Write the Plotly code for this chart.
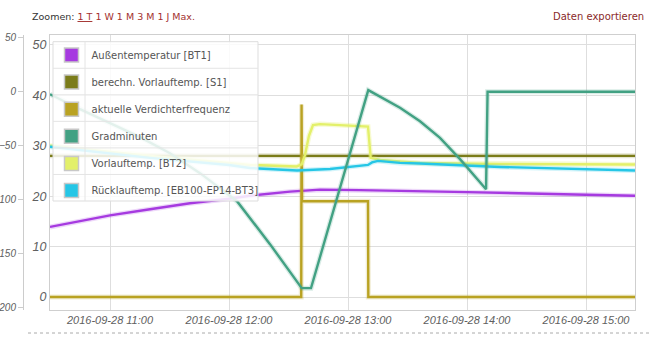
import plotly.graph_objects as go

D = "2016-09-28 "
W, H = 653, 341
MT, MB = 35, 31
PH = H - MT - MB

series_names = ["Außentemperatur [BT1]", "berechn. Vorlauftemp. [S1]", "aktuelle Verdichterfrequenz",
                "Gradminuten", "Vorlauftemp. [BT2]", "Rücklauftemp. [EB100-EP14-BT3]"]
series_colors = ["#a63ae0", "#7b7c1a", "#b9a222", "#42a183", "#e3f06a", "#25c6e6"]
halo_colors = ["rgba(166,58,224,0.2)", "rgba(123,124,26,0.2)", "rgba(185,162,34,0.2)",
               "rgba(66,161,131,0.2)", "rgba(227,240,106,0.3)", "rgba(37,198,230,0.2)"]

aussen_t = ["10:29:45", "11:00:00", "11:20:10", "11:40:20", "12:00:00", "12:10:35", "12:30:45",
            "12:45:53", "13:06:03", "13:26:13", "14:00:00", "15:00:00", "15:24:42"]
aussen_v = [13.9, 16.2, 17.4, 18.6, 19.5, 20.1, 20.9, 21.3, 21.2, 21.0, 20.8, 20.3, 20.1]

soll_t = ["10:29:45", "12:00:00", "14:00:00", "15:24:42"]
soll_v = [28.0, 28.0, 28.0, 28.0]

freq_t = ["10:29:45", "12:36:25", "12:36:35", "12:36:50", "13:10:05", "13:10:15", "15:24:42"]
freq_v = [0, 0, 38.2, 19.0, 19.0, 0, 0]

grad_t = ["10:29:45", "10:44:52", "11:00:00", "11:15:08", "11:30:15", "11:45:23", "12:04:02",
          "12:20:40", "12:36:39", "12:41:21", "13:10:13", "13:26:13", "13:36:18", "13:46:23",
          "13:56:28", "14:09:36", "14:10:22", "15:24:42"]
grad_v = [-2.8, -16.6, -29.5, -42.4, -57.2, -75.6, -101.5, -141.1, -181.7, -181.7, 1.0,
          -15.3, -27.7, -43.1, -62.7, -90.4, -0.5, -0.5]

vl_t = ["10:29:45", "11:20:10", "12:00:00", "12:10:35", "12:34:08", "12:36:39", "12:38:19",
        "12:40:20", "12:42:21", "12:45:53", "12:55:58", "13:10:05", "13:11:27", "13:16:08",
        "13:36:18", "14:16:38", "15:24:42"]
vl_v = [30.0, 28.0, 26.6, 26.2, 25.9, 26.3, 28.2, 32.0, 34.1, 34.3, 34.1, 33.8, 27.6, 27.2,
        26.6, 26.4, 26.3]

rl_t = ["10:29:45", "11:20:10", "12:00:00", "12:10:35", "12:34:18", "12:50:55", "13:10:05",
        "13:12:06", "13:15:08", "13:26:13", "13:36:18", "14:16:38", "15:24:42"]
rl_v = [29.8, 27.6, 26.2, 25.6, 25.1, 25.4, 26.2, 26.7, 27.0, 26.6, 26.5, 25.8, 25.1]

x_ticks = ["11:00", "12:00", "13:00", "14:00", "15:00"]
temp_ticks = [0, 10, 20, 30, 40, 50]
grad_ticks = [-200, -150, -100, -50, 0, 50]

data = [
    (aussen_t, aussen_v, "y"),
    (soll_t, soll_v, "y"),
    (freq_t, freq_v, "y"),
    (grad_t, grad_v, "y2"),
    (vl_t, vl_v, "y"),
    (rl_t, rl_v, "y"),
]

fig = go.Figure()
for i, (ts, vs, ax) in enumerate(data):
    xs = [D + t for t in ts]
    # soft halo below the line (chart-library style shadow)
    fig.add_trace(go.Scatter(
        x=xs, y=vs, yaxis=ax, mode="lines", line=dict(color=halo_colors[i], width=5),
        legendgroup=series_names[i], showlegend=False, hoverinfo="skip"))
    fig.add_trace(go.Scatter(
        x=xs, y=vs, yaxis=ax, mode="lines",
        line=dict(color=series_colors[i], width=2.4),
        name=series_names[i], legendgroup=series_names[i], showlegend=False,
        hoverinfo="x+y+name"))
for i, n in enumerate(series_names):
    fig.add_trace(go.Scatter(
        x=[None], y=[None], mode="markers", name=n, legendgroup=n, showlegend=True,
        marker=dict(symbol="square", size=14, color=series_colors[i],
                    line=dict(color="#c8c8c8", width=1.5))))


def px_x(p):
    return p / W


def px_y(p):
    return (H - MB - p) / PH


lbl_font = dict(family="Liberation Sans, Arial, sans-serif", color="#606060", style="italic")

fig.update_layout(
    width=W, height=H,
    margin=dict(l=0, r=0, t=MT, b=MB, pad=0, autoexpand=False),
    paper_bgcolor="white", plot_bgcolor="white",
    xaxis=dict(
        type="date", domain=[50 / W, 635 / W], automargin=False,
        range=[D + "10:29:45", D + "15:24:42"],
        tickvals=[D + t for t in x_ticks], ticktext=[D + t for t in x_ticks],
        showgrid=True, gridcolor="#dedede", gridwidth=1,
        showline=True, linecolor="#cfcfcf", mirror=True, zeroline=False,
        ticks="", tickfont=dict(size=11, **lbl_font),
    ),
    yaxis=dict(
        range=[-2.58, 51.98], tickvals=temp_ticks, automargin=False,
        showgrid=True, gridcolor="#dedede", gridwidth=1,
        showline=True, linecolor="#cfcfcf", mirror=True, zeroline=False,
        ticks="", tickfont=dict(size=12.5, **lbl_font),
    ),
    yaxis2=dict(
        overlaying="y", anchor="free", position=23 / W, side="left", automargin=False,
        range=[-201.85, 51.85], tickvals=grad_ticks,
        showgrid=False, zeroline=False, showline=True, linecolor="#cccccc",
        ticks="outside", ticklen=5, tickcolor="#cccccc",
        tickfont=dict(size=10, **lbl_font),
    ),
    legend=dict(
        x=px_x(51.5), y=px_y(40.5), xanchor="left", yanchor="top",
        bgcolor="rgba(0,0,0,0)", borderwidth=0,
        font=dict(family="DejaVu Sans, Verdana, sans-serif", size=10, color="#555555"),
        tracegroupgap=8.1, itemclick="toggle",
    ),
    showlegend=True,
)

# legend box (table-like, semi-transparent)
LX0, LX1, LY0, LY1 = 53, 258, 41.7, 201
shapes = [dict(type="rect", xref="paper", yref="paper", x0=px_x(LX0), x1=px_x(LX1),
               y0=px_y(LY1), y1=px_y(LY0), fillcolor="rgba(255,255,255,0.85)",
               line=dict(color="#dddddd", width=1), layer="above")]
for k in range(1, 6):
    yy = LY0 + k * (LY1 - LY0) / 6
    shapes.append(dict(type="line", xref="paper", yref="paper", x0=px_x(LX0), x1=px_x(LX1),
                       y0=px_y(yy), y1=px_y(yy), line=dict(color="#e4e4e4", width=1), layer="above"))
shapes.append(dict(type="line", xref="paper", yref="paper", x0=px_x(85), x1=px_x(85),
                   y0=px_y(LY1), y1=px_y(LY0), line=dict(color="#e4e4e4", width=1), layer="above"))
# dotted separator at bottom
shapes.append(dict(type="line", xref="paper", yref="paper", x0=px_x(28), x1=px_x(651),
                   y0=px_y(333), y1=px_y(333), line=dict(color="#aaaaaa", width=1, dash="dot")))
fig.update_layout(shapes=shapes)

link = "#a3302e"
fig.add_annotation(
    xref="paper", yref="paper", x=px_x(29.5), y=px_y(16), xanchor="left", yanchor="middle",
    showarrow=False,
    text=("Zoomen: <span style='color:%s'><u>1 T</u></span> "
          "<span style='color:%s'>1 W 1 M 3 M 1 J Max.</span>") % (link, link),
    font=dict(family="DejaVu Sans, Verdana, sans-serif", size=9.5, color="#333333"))
fig.add_annotation(
    xref="paper", yref="paper", x=px_x(646), y=px_y(16), xanchor="right", yanchor="middle",
    showarrow=False, text="Daten exportieren",
    font=dict(family="DejaVu Sans, Verdana, sans-serif", size=10, color="#8a2a2a"))

fig.write_html("out.html")
